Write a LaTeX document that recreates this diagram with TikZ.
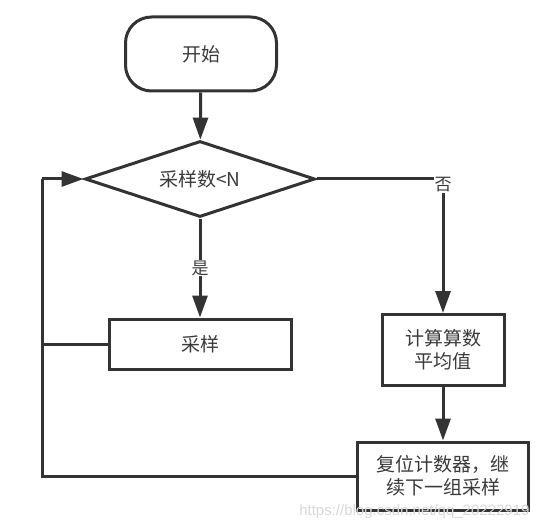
\documentclass[tikz,border=0pt]{standalone}
\usepackage{fontspec}
\setmainfont{Noto Sans CJK SC}
\newfontfamily\wmfont{Liberation Sans}
\usetikzlibrary{arrows.meta,shapes.geometric}
\definecolor{ink}{HTML}{333333}
\definecolor{txt}{HTML}{3A3A3A}
\definecolor{wm}{HTML}{D8D8D8}
\begin{document}
\begin{tikzpicture}[x=1pt,y=-1pt,
  every node/.style={text=txt,font=\fontsize{19}{23}\selectfont},
  line/.style={draw=ink,line width=3pt},
  arr/.style={line,-{Triangle[length=22pt,width=15pt]}},
  procbox/.style={line,fill=white,rectangle,inner sep=0pt,align=center},
  lbl/.style={fill=white,inner sep=1pt,font=\fontsize{17}{20}\selectfont}]
\useasboundingbox (0,0) rectangle (543,529);
\node[line,rectangle,rounded corners=26pt,minimum width=151pt,minimum height=74pt] (start) at (201,54) {开始};
\node[line,diamond,aspect=3.05,minimum width=230pt,minimum height=76pt,inner sep=0pt] (cond) at (200,179) {采样数<N};
\node[procbox,minimum width=182pt,minimum height=50pt] (samp) at (200,344) {采样};
\node[procbox,minimum width=122pt,minimum height=71pt] (calc) at (443,350) {计算算数\\平均值};
\node[procbox,minimum width=171pt,minimum height=68pt] (reset) at (443,476) {复位计数器，继\\续下一组采样};
\coordinate (lt) at (42,179);
\coordinate (lb) at (42,476);
\coordinate (rc) at (443,179);
\draw[arr] (start) -- (cond);
\draw[arr] (cond) -- node[lbl,pos=0.5] {是} (samp);
\draw[line] (cond.east) -- (rc);
\draw[arr] (rc) -- (calc);
\node[lbl] (no) at (443,185) {否};
\draw[arr] (calc) -- (reset);
\draw[line] (reset.west) -- (lb) -- (lt);
\draw[arr] (lt) -- (cond.west);
\draw[line] (samp.west) -- (42,344);
\node[text=wm,font=\wmfont\fontsize{15}{17}\selectfont,anchor=east] (wmark) at (533,512) {https://blog.csdn.net/qq\_20222919};
\end{tikzpicture}
\end{document}
